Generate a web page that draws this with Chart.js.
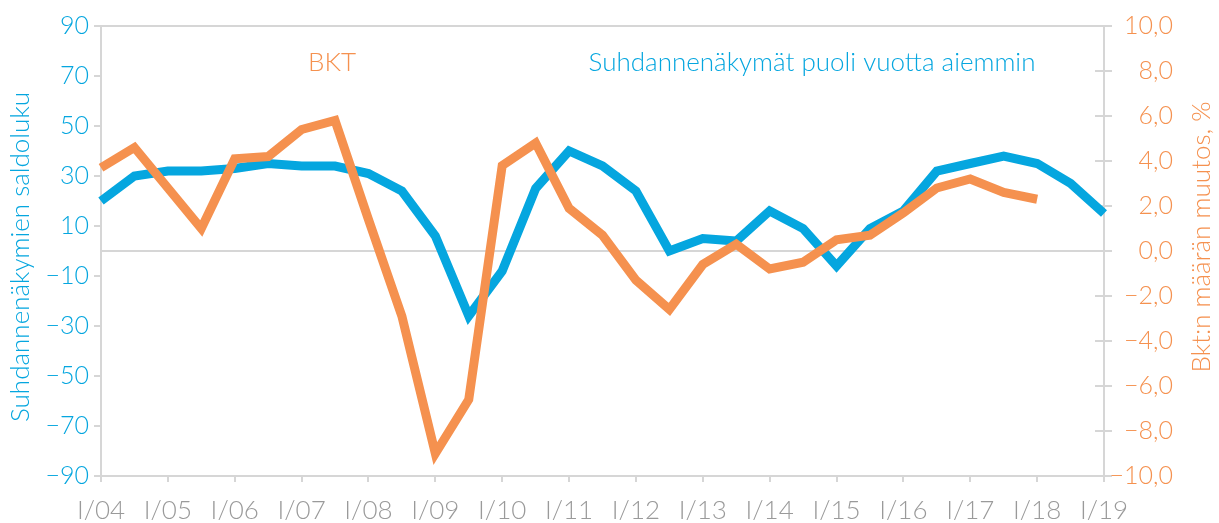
<!DOCTYPE html>
<html lang="fi">
<head>
    <meta charset="UTF-8">
    <title>Suhdannenäkymät ja BKT</title>
    <script src="https://cdn.jsdelivr.net/npm/chart.js@4/dist/chart.umd.min.js"></script>
    <style>
        html, body { margin: 0; padding: 0; background: #fff; }
        #wrap { width: 1219px; height: 523px; }
    </style>
</head>
<body>
    <div id="wrap"><canvas id="chart"></canvas></div>

    <script>
        // half-year periods I/04 ... I/19
        const periods = ['I/04','II/04','I/05','II/05','I/06','II/06','I/07','II/07','I/08','II/08',
                         'I/09','II/09','I/10','II/10','I/11','II/11','I/12','II/12','I/13','II/13',
                         'I/14','II/14','I/15','II/15','I/16','II/16','I/17','II/17','I/18','II/18','I/19'];

        // Suhdannenäkymät puoli vuotta aiemmin (saldoluku, left axis)
        const outlook = [20, 30, 32, 32, 33, 35, 34, 34, 31, 24,
                         6, -26, -8, 25, 40, 34, 24, 0, 5, 4,
                         16, 9, -6, 9, 16, 32, 35, 38, 35, 27, 15];

        // BKT, määrän muutos % (right axis)
        const gdp = [3.7, 4.6, 2.8, 1.0, 4.1, 4.2, 5.4, 5.8, 1.4, -2.9,
                     -9.0, -6.6, 3.8, 4.8, 1.9, 0.7, -1.3, -2.6, -0.6, 0.3,
                     -0.8, -0.5, 0.5, 0.7, 1.7, 2.8, 3.2, 2.6, 2.3];

        const BLUE = '#05a6df';
        const ORANGE = '#f5914f';
        const AXIS = '#d6d6d6';
        const FONT = 'Lato';

        const minus = s => String(s).replace('-', '\u2212');

        // right axis tick marks also reach a little into the plot
        const innerTicks = {
            id: 'innerTicks',
            beforeDatasetsDraw(chart) {
                const ctx = chart.ctx;
                const s = chart.scales.y2;
                ctx.save();
                ctx.strokeStyle = AXIS;
                ctx.lineWidth = 2;
                s.ticks.forEach(t => {
                    const y = s.getPixelForValue(t.value);
                    ctx.beginPath();
                    ctx.moveTo(s.left - 9, y);
                    ctx.lineTo(s.left, y);
                    ctx.stroke();
                });
                ctx.restore();
            }
        };

        const textPlugin = {
            id: 'texts',
            afterDraw(chart) {
                const ctx = chart.ctx;
                ctx.save();
                ctx.font = '300 26px ' + FONT;
                ctx.textAlign = 'center';
                ctx.textBaseline = 'middle';

                ctx.fillStyle = ORANGE;
                ctx.fillText('BKT', 332, 63);
                ctx.fillStyle = BLUE;
                ctx.fillText('Suhdannenäkymät puoli vuotta aiemmin', 812, 63);

                ctx.save();
                ctx.translate(21, 257);
                ctx.rotate(-Math.PI / 2);
                ctx.fillStyle = BLUE;
                ctx.fillText('Suhdannenäkymien saldoluku', 0, 0);
                ctx.restore();

                ctx.save();
                ctx.translate(1202, 237);
                ctx.rotate(-Math.PI / 2);
                ctx.fillStyle = ORANGE;
                ctx.fillText('Bkt:n määrän muutos, %', 0, 0);
                ctx.restore();

                ctx.restore();
            }
        };

        new Chart(document.getElementById('chart'), {
            type: 'line',
            data: {
                labels: periods,
                datasets: [
                    {
                        label: 'BKT',
                        data: gdp,
                        yAxisID: 'y2',
                        borderColor: ORANGE,
                        borderWidth: 9,
                        pointRadius: 0,
                        tension: 0,
                        fill: false
                    },
                    {
                        label: 'Suhdannenäkymät puoli vuotta aiemmin',
                        data: outlook,
                        yAxisID: 'y',
                        borderColor: BLUE,
                        borderWidth: 9,
                        pointRadius: 0,
                        tension: 0,
                        fill: false
                    }
                ]
            },
            options: {
                responsive: true,
                maintainAspectRatio: false,
                animation: false,
                layout: { padding: { top: 26, left: 0, right: 46, bottom: 0 } },
                plugins: {
                    legend: { display: false },
                    tooltip: { enabled: false }
                },
                scales: {
                    x: {
                        offset: false,
                        border: { color: AXIS, width: 2 },
                        grid: {
                            drawOnChartArea: false,
                            tickLength: 6,
                            lineWidth: 2,
                            tickColor: ctx => ctx.index % 2 === 0 ? AXIS : 'transparent'
                        },
                        ticks: {
                            autoSkip: false,
                            maxRotation: 0,
                            padding: 13,
                            color: '#9a9a9a',
                            font: { family: FONT, size: 26, weight: 300 },
                            callback: (v, i) => i % 2 === 0 ? periods[i] : ''
                        },
                        afterFit: s => { s.height = 47; }
                    },
                    y: {
                        position: 'left',
                        min: -90,
                        max: 90,
                        border: { color: AXIS, width: 2 },
                        grid: {
                            lineWidth: 2,
                            tickLength: 7,
                            color: ctx => ctx.tick && ctx.tick.value === 90 ? AXIS : 'transparent',
                            tickColor: AXIS
                        },
                        ticks: {
                            stepSize: 20,
                            padding: 5,
                            color: BLUE,
                            font: { family: FONT, size: 25, weight: 300 },
                            callback: v => minus(v)
                        },
                        afterFit: s => { s.width = 101; }
                    },
                    y2: {
                        position: 'right',
                        min: -10,
                        max: 10,
                        border: { color: AXIS, width: 2 },
                        grid: {
                            lineWidth: 2,
                            tickLength: 8,
                            color: ctx => ctx.tick && ctx.tick.value === 0 ? AXIS : 'transparent',
                            tickColor: AXIS
                        },
                        ticks: {
                            stepSize: 2,
                            padding: 4,
                            crossAlign: 'far',
                            color: ORANGE,
                            font: { family: FONT, size: 25, weight: 300 },
                            callback: v => minus(v.toFixed(1).replace('.', ','))
                        },
                        afterFit: s => { s.width = 69; }
                    }
                }
            },
            plugins: [innerTicks, textPlugin]
        });
    </script>
</body>
</html>
